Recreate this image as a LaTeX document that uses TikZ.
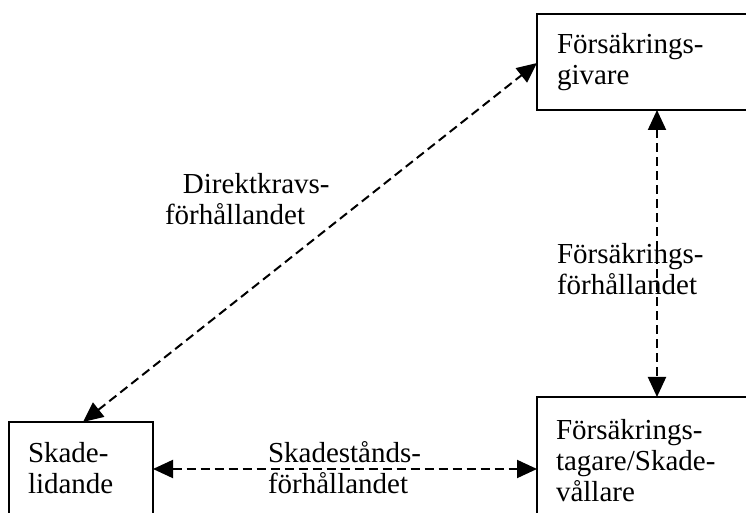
\documentclass[tikz,border=0pt]{standalone}
\usepackage{fontspec}
\setmainfont{Liberation Serif}
\usetikzlibrary{calc,arrows.meta}

\begin{document}
\begin{tikzpicture}[x=0.5pt,y=-0.5pt,line width=1pt]
        \tikzstyle{every node}=[inner sep=0pt, outer sep=0pt]
        \tikzstyle{box}=[draw, rectangle, anchor=north west]
        \tikzstyle{txt}=[anchor=north west, align=left, font=\fontsize{14.5}{15.5}\selectfont]
        \tikzstyle{rel}=[dash pattern=on 4.5pt off 2.5pt, {Triangle[length=10pt,width=9pt]}-{Triangle[length=10pt,width=9pt]}]
        \useasboundingbox (0,0) rectangle (746,513);
        \clip (0,0) rectangle (746,513);

        \node[box, minimum width=130pt, minimum height=48pt] (11) at (537,14) {};
        \node[box, minimum width=72pt, minimum height=60pt] (12) at (9,422) {};
        \node[box, minimum width=130pt, minimum height=70pt] (13) at (537,397) {};

        \node[txt] (21) at ($(11.north west)+(20,19)$) {Försäkrings-\\givare};
        \node[txt] (22) at ($(12.north west)+(19,20)$) {Skade-\\lidande};
        \node[txt] (23) at ($(13.north west)+(19,22)$) {Försäkrings-\\tagare/Skade-\\vållare};

        \node[txt] (31) at (165,173) {\hspace{9pt}Direktkravs-\\förhållandet};
        \node[txt] (32) at (557,243) {Försäkrings-\\förhållandet};
        \node[txt] (33) at (268,442) {Skadestånds-\\förhållandet};

        \draw[rel] ($(12.north west)+(74,0)$) to ($(11.north west)+(0,49)$);
        \draw[rel] ($(11.south west)+(120,0)$) to ($(13.north west)+(120,0)$);
        \draw[rel] ($(12.north east)+(0,47)$) to ($(13.north west)+(0,72)$);
    \end{tikzpicture}
\end{document}
